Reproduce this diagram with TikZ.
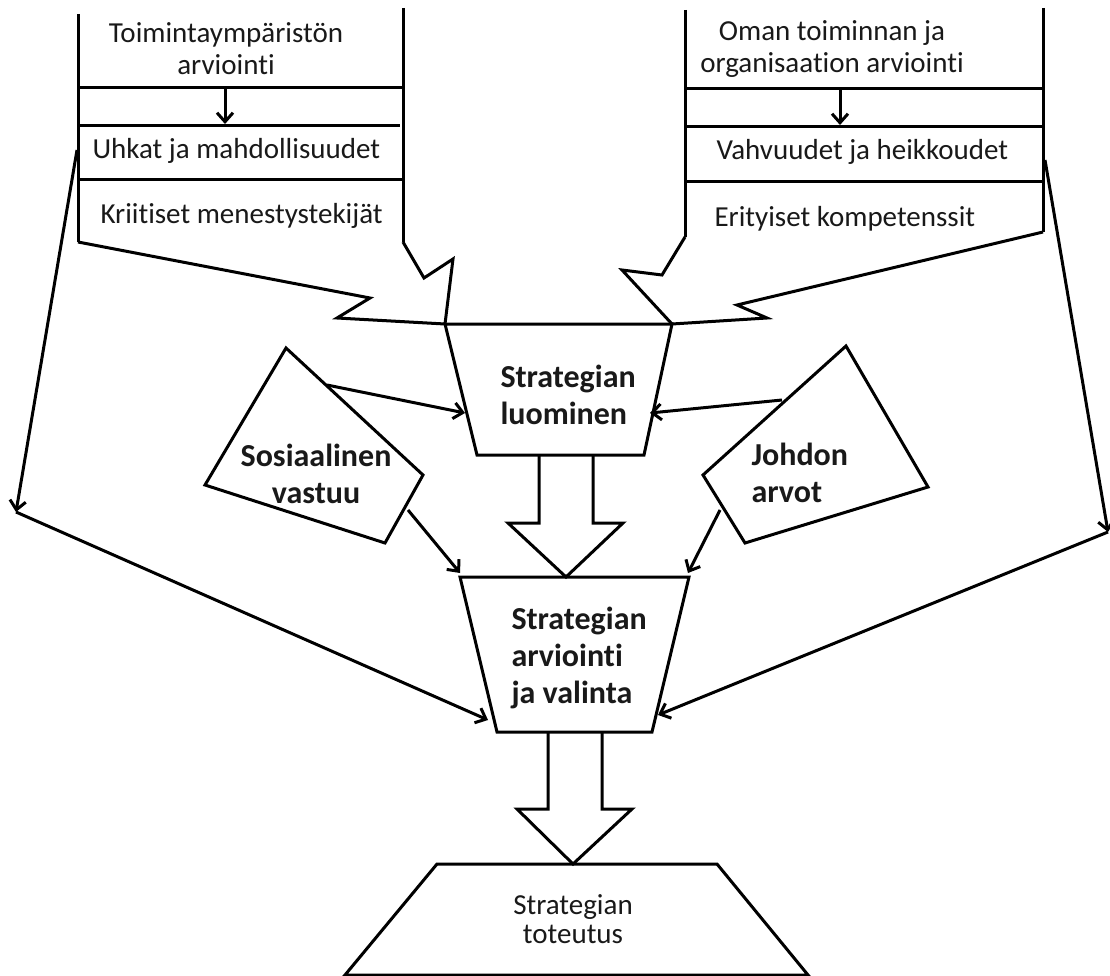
\documentclass[tikz,border=0pt]{standalone}
\usepackage{fontspec}
\setmainfont{Carlito}[Ligatures={NoCommon,NoRare,NoContextual}]
\usetikzlibrary{arrows.meta}
\begin{document}
\begin{tikzpicture}[x=1pt,y=-1pt,
  line width=3pt, line join=miter,
  outline/.style={draw=black, line width=3pt},
  conn/.style={draw=black, line width=3pt, -{Straight Barb[length=9pt,width=16pt]}},
  plain/.style={inner sep=0pt, text=black!90, font=\fontsize{29}{32}\selectfont},
  heavy/.style={inner sep=0pt, text=black!90, font=\fontsize{32}{37}\selectfont\bfseries}]
\useasboundingbox (0,0) rectangle (1110,976);
\fill[white] (0,0) rectangle (1110,976);

% ---- environment assessment column ----
\draw[outline] (78,14) -- (78,242);
\draw[outline] (403,8) -- (403,242);
\draw[outline] (78,88) -- (403,88);
\draw[outline] (78,126) -- (400,126);
\draw[outline] (78,180) -- (403,180);
\coordinate (envA) at (225,88);
\coordinate (envB) at (225,124);
\draw[conn] (envA) -- (envB);
\node[plain, align=center] (envTitle) at (226,49) {Toimintaympäristön\\arviointi};
\node[plain, anchor=west] (threats) at (91,151) {Uhkat ja mahdollisuudet};
\node[plain, anchor=west] (critical) at (99,216) {Kriitiset menestystekijät};

% ---- organisation assessment column ----
\draw[outline] (685,10) -- (685,237);
\draw[outline] (1043,8) -- (1043,232);
\draw[outline] (685,89) -- (1043,89);
\draw[outline] (685,127) -- (1043,127);
\draw[outline] (685,182) -- (1043,182);
\coordinate (orgA) at (840,89);
\coordinate (orgB) at (840,125);
\draw[conn] (orgA) -- (orgB);
\node[plain, align=center] (orgTitle) at (832,49) {Oman toiminnan ja\\organisaation arviointi};
\node[plain, anchor=west] (strengths) at (715,152) {Vahvuudet ja heikkoudet};
\node[plain, anchor=west] (competence) at (713,219) {Erityiset kompetenssit};

% ---- bent block arrows into strategy creation ----
\coordinate (tipL) at (445,324);
\coordinate (tipR) at (672,324);
\draw[outline] (78,242) -- (370,298) -- (337,318) -- (tipL);
\draw[outline] (403,242) -- (424,278) -- (453,259) -- (tipL);
\draw[outline] (1043,232) -- (737,305) -- (767,318) -- (tipR);
\draw[outline] (685,237) -- (662,275) -- (622,270) -- (tipR);

% ---- strategy creation ----
\draw[outline] (tipL) -- (tipR) -- (644,455) -- (477,455) -- cycle;
\node[heavy, align=left, anchor=west] (create) at (499,395) {Strategian\\luominen};

% ---- side influences ----
\draw[outline] (286,348) -- (423,475) -- (385,543) -- (205,485) -- cycle;
\node[heavy, align=center] (social) at (316,474) {Sosiaalinen\\vastuu};
\draw[outline] (846,346) -- (928,487) -- (745,543) -- (703,475) -- cycle;
\node[heavy, align=left, anchor=west] (values) at (750,473) {Johdon\\arvot};

% ---- hollow arrow to evaluation ----
\draw[outline] (539,455) -- (539,523) -- (508,523) -- (566,577) -- (623,523) -- (593,523) -- (593,455);

% ---- strategy evaluation and choice ----
\draw[outline] (460,577) -- (689,577) -- (652,732) -- (497,732) -- cycle;
\node[heavy, align=left, anchor=west] (evaluate) at (510,658) {Strategian\\arviointi\\ja valinta};

% ---- hollow arrow to implementation ----
\draw[outline] (548,732) -- (548,809) -- (517,809) -- (573,864) -- (632,809) -- (602,809) -- (602,732);

% ---- strategy implementation ----
\draw[outline] (437,864) -- (717,864) -- (808,975) -- (345,975) -- cycle;
\node[plain, align=center, font=\fontsize{29}{29}\selectfont] (implement) at (573,919) {Strategian\\toteutus};

% ---- connectors ----
\coordinate (socA) at (327,385);
\coordinate (socB) at (408,510);
\coordinate (valA) at (782,400);
\coordinate (valB) at (720,510);
\coordinate (createL) at (465,413);
\coordinate (createR) at (650,413);
\coordinate (evalTL) at (460,573);
\coordinate (evalTR) at (688,573);
\draw[conn] (socA) -- (createL);
\draw[conn] (socB) -- (evalTL);
\draw[conn] (valA) -- (createR);
\draw[conn] (valB) -- (evalTR);

\coordinate (thrOut) at (77,150);
\coordinate (bendL) at (16,512);
\coordinate (evalBL) at (488,720);
\draw[conn] (thrOut) -- (bendL);
\draw[conn] (bendL) -- (evalBL);

\coordinate (strOut) at (1045,160);
\coordinate (bendR) at (1108,532);
\coordinate (evalBR) at (658,715);
\draw[conn] (strOut) -- (bendR);
\draw[conn] (bendR) -- (evalBR);
\end{tikzpicture}
\end{document}
